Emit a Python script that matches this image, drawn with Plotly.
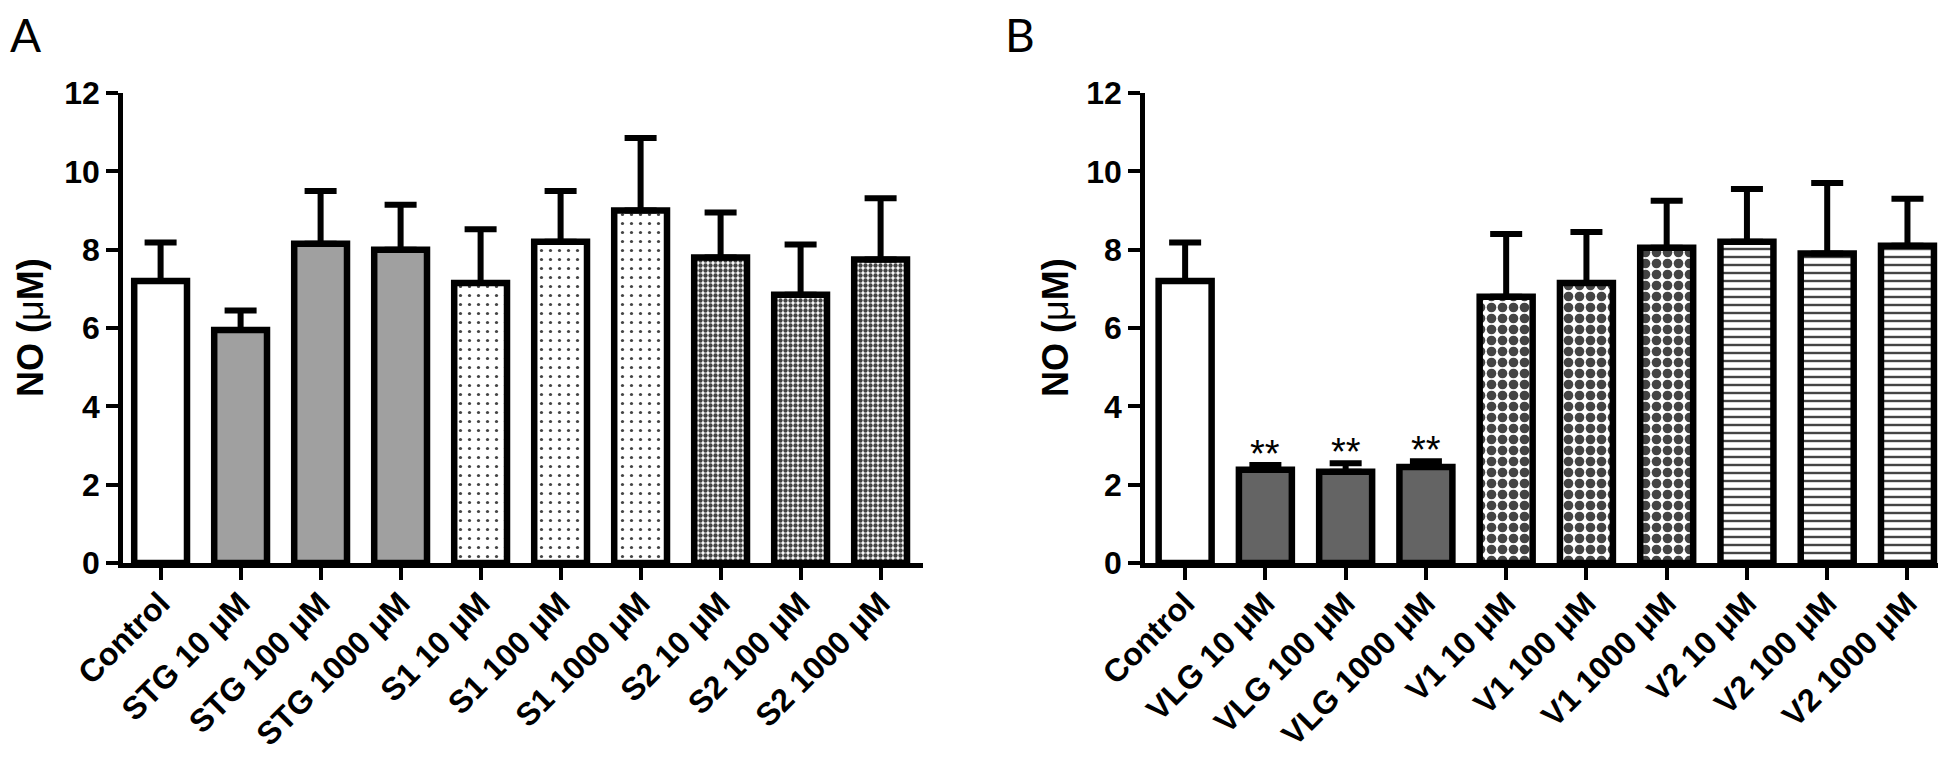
import plotly.graph_objects as go

# ---------------- data ----------------
categories_A = ["Control", "STG 10 μM", "STG 100 μM", "STG 1000 μM",
                "S1 10 μM", "S1 100 μM", "S1 1000 μM",
                "S2 10 μM", "S2 100 μM", "S2 1000 μM"]
means_A = [7.2, 5.95, 8.15, 8.0, 7.15, 8.2, 9.0, 7.8, 6.85, 7.75]
errors_A = [0.98, 0.5, 1.35, 1.15, 1.37, 1.3, 1.85, 1.15, 1.28, 1.56]

categories_B = ["Control", "VLG 10 μM", "VLG 100 μM", "VLG 1000 μM",
                "V1 10 μM", "V1 100 μM", "V1 1000 μM",
                "V2 10 μM", "V2 100 μM", "V2 1000 μM"]
means_B = [7.2, 2.38, 2.33, 2.45, 6.8, 7.15, 8.05, 8.2, 7.9, 8.1]
errors_B = [0.98, 0.12, 0.22, 0.15, 1.6, 1.3, 1.2, 1.35, 1.8, 1.2]

significant_B = ["VLG 10 μM", "VLG 100 μM", "VLG 1000 μM"]
sig_label = "**"

y_ticks = [0, 2, 4, 6, 8, 10, 12]
y_title = "<b>NO (</b>μ<b>M)</b>"

# ---------------- styles ----------------
fill_A = ["white", "#a0a0a0", "#a0a0a0", "#a0a0a0",
          "white", "white", "white", "white", "white", "white"]
shape_A = ["", "", "", "", ".", ".", ".", ".", ".", "."]
psize_A = [8, 8, 8, 8, 9, 9, 9, 5, 5, 5]
psol_A = [0.1, 0.1, 0.1, 0.1, 0.1, 0.1, 0.1, 0.6, 0.6, 0.6]

fill_B = ["white", "#646464", "#646464", "#646464",
          "white", "white", "white", "white", "white", "white"]
shape_B = ["", "", "", "", ".", ".", ".", "-", "-", "-"]
psize_B = [8, 8, 8, 8, 11, 11, 11, 8, 8, 8]
psol_B = [0.1, 0.1, 0.1, 0.1, 0.6, 0.6, 0.6, 0.3, 0.3, 0.3]

W, H = 1946, 759
FONT = "Arial, Liberation Sans, sans-serif"


def bar_trace(cats, means, errs, fills, shapes, sizes, sols, xa, ya):
    return go.Bar(
        x=cats, y=means, width=0.66, xaxis=xa, yaxis=ya,
        marker=dict(
            color=fills,
            line=dict(color="black", width=6.5),
            pattern=dict(shape=shapes, size=sizes, solidity=sols,
                         fgcolor="black", fgopacity=1, fillmode="overlay"),
        ),
        error_y=dict(type="data", array=errs, arrayminus=[0] * len(errs),
                     symmetric=False, color="black", thickness=6, width=16),
        showlegend=False, hoverinfo="x+y",
    )


fig = go.Figure()
fig.add_trace(bar_trace(categories_A, means_A, errors_A, fill_A, shape_A,
                        psize_A, psol_A, "x", "y"))
fig.add_trace(bar_trace(categories_B, means_B, errors_B, fill_B, shape_B,
                        psize_B, psol_B, "x2", "y2"))

y_dom = [(H - 555) / H, (H - 85) / H]

xcommon = dict(showline=True, linecolor="black", linewidth=4.5, ticks="outside",
               ticklen=12, tickwidth=4, tickcolor="black", tickangle=-45,
               ticklabelstandoff=-8,
               tickfont=dict(family=FONT, size=32, color="black", weight="bold"),
               showgrid=False, zeroline=False, automargin=False,
               type="category", fixedrange=True)
ycommon = dict(showline=True, linecolor="black", linewidth=4.5, ticks="outside",
               ticklen=12, tickwidth=4, tickcolor="black",
               tickvals=y_ticks, range=[0, 12],
               tickfont=dict(family=FONT, size=32, color="black", weight="bold"),
               showgrid=False, zeroline=False, automargin=False, domain=y_dom)

fig.update_layout(
    width=W, height=H,
    margin=dict(l=0, r=0, t=0, b=0),
    paper_bgcolor="white", plot_bgcolor="white",
    xaxis=dict(xcommon, domain=[115 / W, 915 / W], range=[-0.47, 9.53], anchor="y"),
    yaxis=dict(ycommon, anchor="x"),
    xaxis2=dict(xcommon, domain=[1137 / W, 1942 / W], range=[-0.5, 9.53], anchor="y2"),
    yaxis2=dict(ycommon, anchor="x2"),
)

annotations = []
# significance markers
for c in significant_B:
    i = categories_B.index(c)
    annotations.append(dict(x=c, y=means_B[i] + errors_B[i], xref="x2", yref="y2",
                            text=sig_label, showarrow=False, yanchor="bottom",
                            yshift=-12, font=dict(family=FONT, size=38, color="black")))
# y titles
for xp in (22, 1047):
    annotations.append(dict(x=xp / W, y=(H - 320) / H, xref="paper", yref="paper",
                            text=y_title, textangle=-90, showarrow=False,
                            xanchor="center", yanchor="middle",
                            font=dict(family=FONT, size=36, color="black")))
# panel letters
for lab, xp in (("A", 2), ("B", 997)):
    annotations.append(dict(x=xp / W, y=1, xref="paper", yref="paper", text=lab,
                            showarrow=False, xanchor="left", yanchor="top",
                            yshift=3, xshift=-2,
                            font=dict(family="Lato, Open Sans, sans-serif", size=46,
                                      color="black")))
fig.update_layout(annotations=annotations)

fig.write_html("out.html")
